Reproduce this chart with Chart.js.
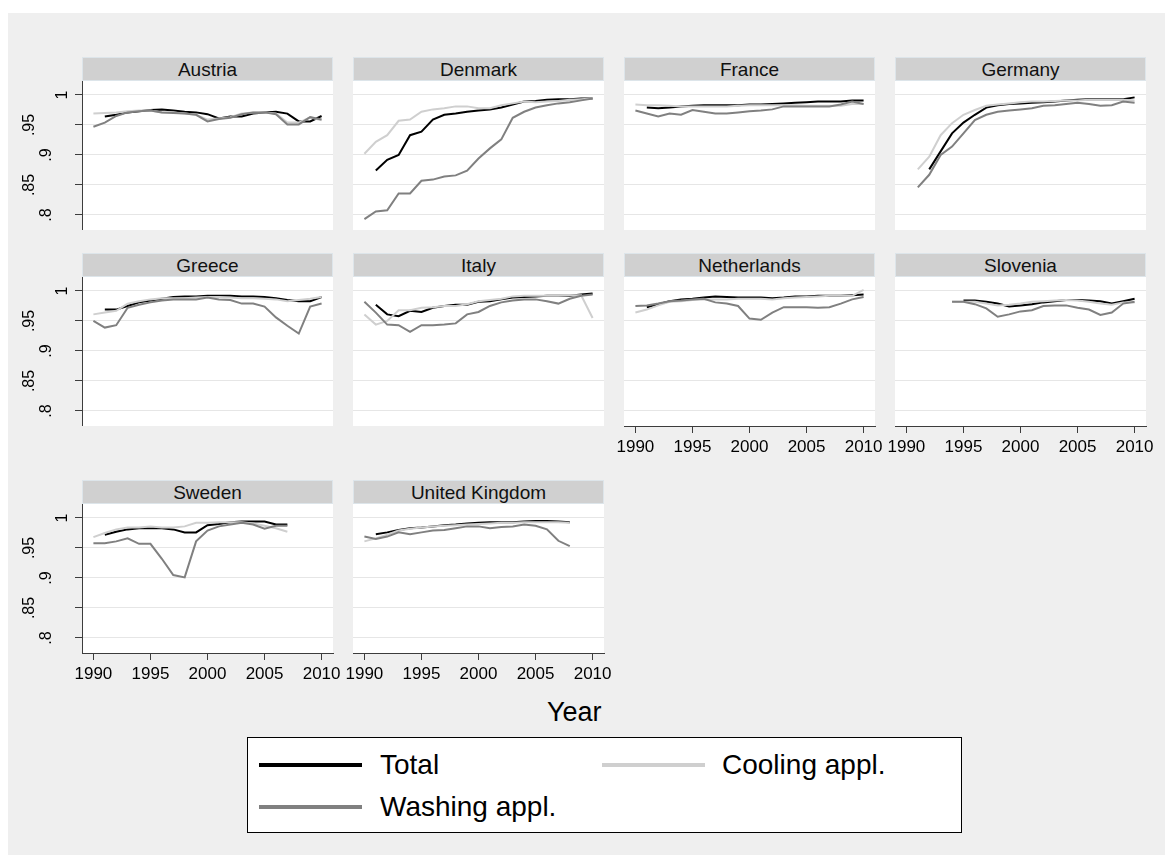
<!DOCTYPE html>
<html>
<head>
<meta charset="utf-8">
<script src="https://cdn.jsdelivr.net/npm/chart.js@4.4.1/dist/chart.umd.min.js"></script>
<style>
    body { margin: 0; background: #ffffff; }
    #page { position: relative; width: 1173px; height: 866px; background: #ffffff; overflow: hidden;
            font-family: "Liberation Sans", Arial, Helvetica, sans-serif; }
    #region { position: absolute; left: 8px; top: 13px; width: 1157px; height: 842px; background: #efefef; }
    .header { position: absolute; height: 24px; background: #d0d0d0; box-sizing: border-box;
              border: 1px solid #dde5ea; text-align: center; line-height: 23px; font-size: 19px; color: #111; }
    canvas { position: absolute; }
    #xtitle { position: absolute; font-size: 27px; color: #000; }
    #legend { position: absolute; left: 247px; top: 737px; width: 715px; height: 96px; background: #fff;
              border: 1.5px solid #000; box-sizing: border-box; }
    .swatch { position: absolute; width: 103px; height: 4px; }
    .ltext { position: absolute; font-size: 28px; color: #000; line-height: 28px; }
</style>
</head>
<body>
<div id="page">
    <div id="region"></div>
    <div id="xtitle" style="left:547px; top:697px;">Year</div>
    <div id="legend">
        <div class="swatch" style="left:11px; top:25px; background:#000;"></div>
        <div class="ltext" style="left:132px; top:13px;">Total</div>
        <div class="swatch" style="left:354px; top:25px; background:#cfcfcf;"></div>
        <div class="ltext" style="left:474px; top:13px;">Cooling appl.</div>
        <div class="swatch" style="left:11px; top:67px; background:#808080;"></div>
        <div class="ltext" style="left:132px; top:55px;">Washing appl.</div>
    </div>
</div>
<script>
// years on the x axis
const years = [1990, 1991, 1992, 1993, 1994, 1995, 1996, 1997, 1998, 1999, 2000,
               2001, 2002, 2003, 2004, 2005, 2006, 2007, 2008, 2009, 2010];
const xTicks = [1990, 1995, 2000, 2005, 2010];
const yTicks = [0.8, 0.85, 0.9, 0.95, 1];
const yTickLabels = ['.8', '.85', '.9', '.95', '1'];
const seriesNames = ['Total', 'Cooling appl.', 'Washing appl.'];

// share of efficient appliances, per country
const austriaTotal   = [null, .964, .967, .971, .973, .975, .976, .974, .972, .971, .968, .961, .964, .964, .969, .971, .972, .969, .956, .956, .965];
const austriaCooling = [.969, .970, .971, .973, .974, .974, .971, .971, .969, .967, .959, .961, .963, .969, .971, .971, .969, .954, .954, .963, .958];
const austriaWashing = [.947, .954, .965, .971, .973, .974, .971, .970, .969, .967, .956, .960, .962, .968, .971, .971, .968, .951, .951, .963, .959];

const denmarkTotal   = [null, .874, .892, .900, .933, .939, .959, .967, .969, .972, .974, .976, .979, .984, .989, .990, .992, .993, .993, .994, .994];
const denmarkCooling = [.902, .922, .933, .957, .959, .972, .976, .978, .981, .981, .978, .978, .983, .986, .989, .988, .989, .990, .992, .993, .994];
const denmarkWashing = [.793, .806, .808, .836, .836, .857, .859, .864, .866, .874, .894, .911, .926, .962, .972, .979, .983, .986, .988, .991, .994];

const franceTotal   = [null, .979, .978, .979, .981, .982, .983, .983, .983, .983, .984, .984, .985, .986, .987, .988, .989, .989, .989, .991, .991];
const franceCooling = [.984, .983, .983, .982, .981, .981, .981, .981, .981, .982, .983, .983, .983, .983, .983, .982, .982, .982, .982, .985, .985];
const franceWashing = [.974, .969, .964, .969, .967, .975, .972, .969, .969, .971, .973, .974, .976, .981, .981, .981, .981, .981, .984, .989, .985];

const germanyTotal   = [null, null, .876, .906, .936, .954, .967, .979, .983, .985, .986, .987, .988, .989, .991, .992, .993, .993, .993, .993, .996];
const germanyCooling = [null, .876, .897, .933, .953, .967, .975, .982, .984, .986, .988, .989, .989, .990, .991, .991, .992, .992, .992, .992, .991];
const germanyWashing = [null, .846, .867, .900, .914, .936, .958, .967, .972, .974, .976, .978, .982, .983, .985, .987, .985, .982, .983, .989, .987];

const greeceTotal   = [null, .969, .969, .975, .981, .984, .987, .990, .991, .991, .992, .992, .992, .991, .991, .990, .988, .985, .983, .983, .990];
const greeceCooling = [.961, .964, .967, .979, .983, .986, .988, .988, .988, .989, .990, .990, .989, .988, .988, .987, .986, .983, .985, .987, .990];
const greeceWashing = [.950, .939, .943, .972, .977, .981, .984, .986, .986, .986, .989, .986, .985, .979, .979, .974, .956, .942, .929, .974, .979];

const italyTotal   = [null, .977, .961, .958, .967, .965, .972, .975, .977, .977, .982, .983, .986, .989, .990, .991, .992, .992, .992, .994, .996];
const italyCooling = [.961, .944, .950, .968, .968, .972, .973, .975, .975, .978, .983, .985, .987, .991, .992, .992, .992, .992, .993, .993, .955];
const italyWashing = [.982, .964, .944, .943, .932, .943, .943, .944, .946, .961, .965, .975, .981, .984, .986, .986, .983, .979, .987, .992, .994];

const netherlandsTotal   = [null, .973, .978, .983, .986, .987, .989, .991, .990, .989, .989, .989, .988, .989, .991, .991, .992, .992, .992, .993, .994];
const netherlandsCooling = [.964, .969, .976, .982, .983, .985, .986, .986, .986, .987, .987, .987, .986, .988, .989, .990, .991, .992, .992, .992, 1.002];
const netherlandsWashing = [.975, .976, .979, .983, .984, .986, .987, .981, .979, .975, .954, .952, .964, .973, .973, .973, .972, .973, .979, .986, .990];

const sloveniaTotal   = [null, null, null, null, null, .984, .984, .982, .979, .974, .976, .978, .981, .983, .985, .985, .984, .983, .979, .983, .987];
const sloveniaCooling = [null, null, null, null, .982, .982, .982, .979, .976, .977, .979, .982, .983, .984, .985, .984, .982, .979, .977, .981, .981];
const sloveniaWashing = [null, null, null, null, .982, .982, .978, .971, .957, .961, .966, .968, .975, .976, .976, .972, .969, .960, .964, .979, .982];

const swedenTotal   = [null, .972, .977, .981, .983, .983, .983, .981, .976, .976, .988, .990, .993, .994, .994, .994, .989, .989, null, null, null];
const swedenCooling = [.968, .975, .981, .984, .984, .986, .984, .984, .986, .992, .992, .993, .993, .993, .991, .987, .983, .977, null, null, null];
const swedenWashing = [.958, .958, .961, .966, .957, .957, .932, .905, .901, .961, .979, .986, .989, .992, .989, .982, .987, .987, null, null, null];

const ukTotal   = [null, .973, .976, .980, .983, .984, .986, .988, .989, .991, .992, .993, .993, .993, .994, .995, .995, .994, .993, null, null];
const ukCooling = [.961, .966, .972, .979, .982, .984, .986, .987, .988, .989, .990, .991, .992, .992, .993, .993, .993, .993, .992, null, null];
const ukWashing = [.969, .965, .969, .976, .973, .976, .979, .980, .983, .986, .986, .983, .985, .986, .989, .987, .981, .962, .953, null, null];

// panel grid: row, column, and whether the panel carries an x axis
const panels = [
    { name: 'Austria',        row: 0, col: 0, xAxis: false, series: [austriaTotal, austriaCooling, austriaWashing] },
    { name: 'Denmark',        row: 0, col: 1, xAxis: false, series: [denmarkTotal, denmarkCooling, denmarkWashing] },
    { name: 'France',         row: 0, col: 2, xAxis: false, series: [franceTotal, franceCooling, franceWashing] },
    { name: 'Germany',        row: 0, col: 3, xAxis: false, series: [germanyTotal, germanyCooling, germanyWashing] },
    { name: 'Greece',         row: 1, col: 0, xAxis: false, series: [greeceTotal, greeceCooling, greeceWashing] },
    { name: 'Italy',          row: 1, col: 1, xAxis: false, series: [italyTotal, italyCooling, italyWashing] },
    { name: 'Netherlands',    row: 1, col: 2, xAxis: true,  series: [netherlandsTotal, netherlandsCooling, netherlandsWashing] },
    { name: 'Slovenia',       row: 1, col: 3, xAxis: true,  series: [sloveniaTotal, sloveniaCooling, sloveniaWashing] },
    { name: 'Sweden',         row: 2, col: 0, xAxis: true,  series: [swedenTotal, swedenCooling, swedenWashing] },
    { name: 'United Kingdom', row: 2, col: 1, xAxis: true,  series: [ukTotal, ukCooling, ukWashing] }
];

const lineColors = ['#000000', '#cfcfcf', '#808080'];
const drawOrder = [3, 2, 1];   // washing ends up on top

const colLeft = [82, 353, 624, 895];
const rowTop = [81, 277, 504];
const plotW = 251;
const plotH = 149;
const headerH = 24;
const yAxisW = 72;
const sideMargin = 24;
const xAxisH = 44;
const axisColor = '#3c3c3c';
const fontFamily = '"Liberation Sans", Arial, Helvetica, sans-serif';

// white plot region behind the lines
const plotBackground = {
    id: 'plotBackground',
    beforeDraw(chart) {
        const a = chart.chartArea;
        const ctx = chart.ctx;
        ctx.save();
        ctx.fillStyle = '#ffffff';
        ctx.fillRect(a.left, a.top, a.right - a.left, a.bottom - a.top);
        ctx.restore();
    }
};

// vertical y tick labels; like the original export, longer labels sit further from the axis
const verticalYLabels = {
    id: 'verticalYLabels',
    afterDraw(chart, args, opts) {
        if (!opts.show) return;
        const scale = chart.scales.y;
        const ctx = chart.ctx;
        ctx.save();
        ctx.font = '16px ' + fontFamily;
        ctx.fillStyle = '#000';
        ctx.textAlign = 'center';
        ctx.textBaseline = 'alphabetic';
        scale.ticks.forEach((t, i) => {
            const label = yTickLabels[i];
            const py = scale.getPixelForValue(t.value);
            const bx = scale.right + 1.5 - 16.5 * label.length;
            ctx.save();
            ctx.translate(bx, py);
            ctx.rotate(-Math.PI / 2);
            ctx.fillText(label, 0, 0);
            ctx.restore();
        });
        ctx.restore();
    }
};

const page = document.getElementById('page');

panels.forEach(p => {
    const isLeft = p.col === 0;
    const left = colLeft[p.col];
    const top = rowTop[p.row];

    const header = document.createElement('div');
    header.className = 'header';
    header.style.left = left + 'px';
    header.style.top = (top - headerH) + 'px';
    header.style.width = plotW + 'px';
    header.textContent = p.name;
    page.appendChild(header);

    const padLeft = isLeft ? 0 : sideMargin;
    const axisW = isLeft ? yAxisW : 0;
    const canvas = document.createElement('canvas');
    const cw = padLeft + axisW + plotW + sideMargin;
    const ch = plotH + (p.xAxis ? xAxisH : 0);
    canvas.width = cw;
    canvas.height = ch;
    canvas.style.width = cw + 'px';
    canvas.style.height = ch + 'px';
    canvas.style.left = (left - axisW - padLeft) + 'px';
    canvas.style.top = top + 'px';
    page.appendChild(canvas);

    const datasets = p.series.map((vals, k) => ({
        label: seriesNames[k],
        data: years.map((yr, i) => ({ x: yr, y: vals[i] })),
        borderColor: lineColors[k],
        borderWidth: 2,
        pointRadius: 0,
        fill: false,
        tension: 0,
        spanGaps: false,
        order: drawOrder[k]
    }));

    new Chart(canvas.getContext('2d'), {
        type: 'line',
        data: { datasets: datasets },
        options: {
            responsive: false,
            maintainAspectRatio: false,
            animation: false,
            layout: { padding: { left: padLeft, right: sideMargin, top: 0, bottom: 0 } },
            plugins: {
                legend: { display: false },
                tooltip: { enabled: false },
                verticalYLabels: { show: isLeft }
            },
            scales: {
                x: {
                    type: 'linear',
                    min: 1989,
                    max: 2011,
                    display: p.xAxis,
                    afterBuildTicks: s => { s.ticks = xTicks.map(v => ({ value: v })); },
                    afterFit: s => { s.height = p.xAxis ? xAxisH : 0; },
                    grid: { drawOnChartArea: false, drawTicks: true, tickLength: 7, tickColor: axisColor },
                    border: { display: true, color: axisColor, width: 1 },
                    ticks: {
                        color: '#000',
                        font: { family: fontFamily, size: 17 },
                        padding: 4,
                        maxRotation: 0,
                        autoSkip: false,
                        callback: v => String(v)
                    }
                },
                y: {
                    type: 'linear',
                    min: 0.775,
                    max: 1.0233,
                    afterBuildTicks: s => { s.ticks = yTicks.map(v => ({ value: v })); },
                    afterFit: s => { s.width = axisW; },
                    grid: { color: '#e6e6e6', lineWidth: 1, drawTicks: isLeft, tickLength: 7, tickColor: axisColor },
                    border: { display: isLeft, color: axisColor, width: 1 },
                    ticks: { display: false }
                }
            }
        },
        plugins: [plotBackground, verticalYLabels]
    });
});
</script>
</body>
</html>
